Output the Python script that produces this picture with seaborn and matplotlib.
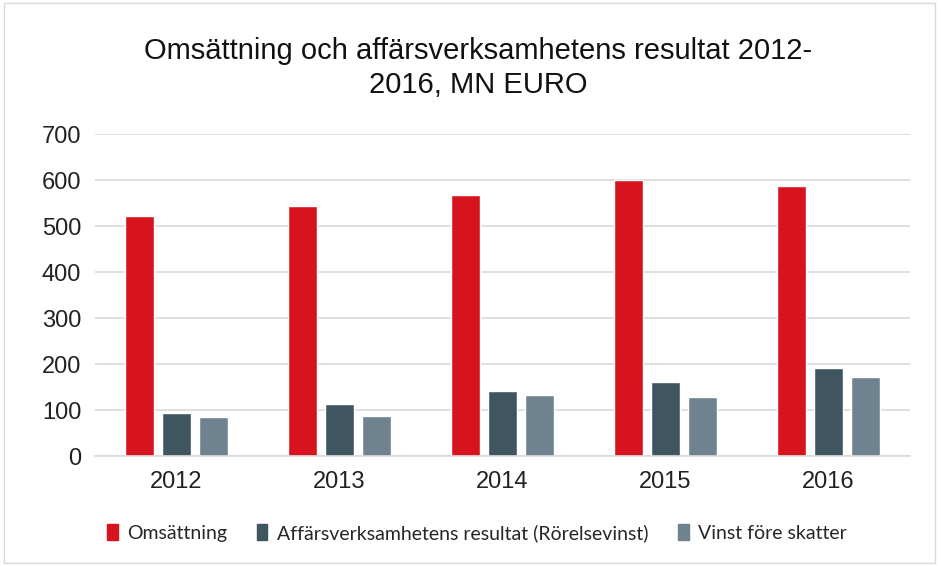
import numpy as np
import matplotlib.pyplot as plt
import seaborn as sns
import pandas as pd
from matplotlib.patches import Rectangle

# Data
years = ['2012', '2013', '2014', '2015', '2016']
series_names = ['Omsättning', 'Affärsverksamhetens resultat (Rörelsevinst)', 'Vinst före skatter']
omsattning = [521, 543, 567, 600, 587]
rorelsevinst = [93, 113, 141, 162, 191]
vinst_fore_skatter = [86, 87, 132, 128, 172]
colors = ['#D7141E', '#3F5661', '#6E838F']

df = pd.DataFrame({
    'year': years * 3,
    'serie': [series_names[0]] * 5 + [series_names[1]] * 5 + [series_names[2]] * 5,
    'value': omsattning + rorelsevinst + vinst_fore_skatter,
})

sns.set_style('white')
plt.rcParams['font.family'] = ['Liberation Sans', 'DejaVu Sans']

fig = plt.figure(figsize=(9.41, 5.66), dpi=100)
ax = fig.add_axes([0.101, 0.194, 0.866, 0.569])

sns.barplot(data=df, x='year', y='value', hue='serie', palette=colors,
            width=0.68, gap=0.2, ax=ax, legend=False, saturation=1)

ax.set_ylim(0, 700)
ax.set_yticks(range(0, 701, 100))
ax.set_xlim(-0.5, 4.5)
ax.yaxis.grid(True, color='#D9D9D9', linewidth=1.2)
ax.set_axisbelow(True)
for s in ['top', 'right', 'left']:
    ax.spines[s].set_visible(False)
ax.spines['bottom'].set_color('#D9D9D9')
ax.spines['bottom'].set_linewidth(1.2)
ax.tick_params(axis='both', length=0, labelsize=17, colors='#222222')
ax.tick_params(axis='y', pad=10)
ax.tick_params(axis='x', pad=11)
ax.set_xlabel('')
ax.set_ylabel('')

fig.text(0.508, 0.880, 'Omsättning och affärsverksamhetens resultat 2012-\n2016, MN EURO',
         ha='center', va='center', fontsize=21, linespacing=1.25, color='#111111')

# Legend
handles = [Rectangle((0, 0), 1, 1, color=c) for c in colors]
fig.legend(handles, series_names, loc='center', bbox_to_anchor=(0.507, 0.058),
           ncol=3, frameon=False, handlelength=0.55, handleheight=0.9,
           handletextpad=0.5, columnspacing=1.5, prop={'family': ['Lato', 'DejaVu Sans'], 'size': 14})

# Border around chart
fig.patches.append(Rectangle((0.004, 0.005), 0.99, 0.99, transform=fig.transFigure,
                             fill=False, edgecolor='#D9D9D9', linewidth=1))

fig.savefig('out.png', dpi=100)
